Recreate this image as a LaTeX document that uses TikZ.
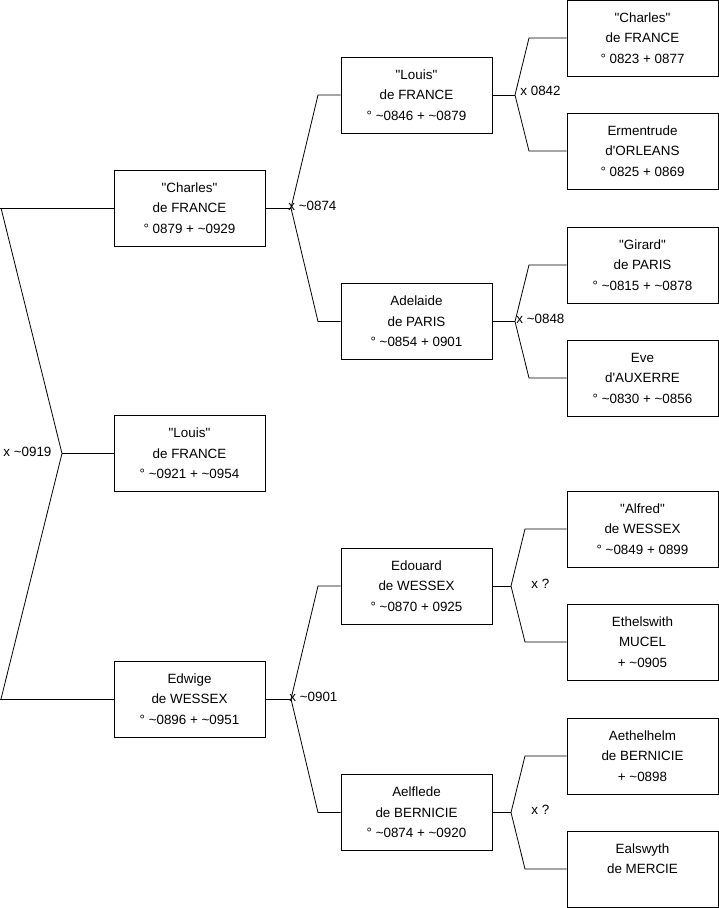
\documentclass[tikz,border=0pt]{standalone}
\usepackage{fontspec}
\setmainfont{Liberation Sans}[Ligatures=TeXReset]
\newcommand{\dq}{\symbol{34}}
\begin{document}
\begin{tikzpicture}[x=1pt,y=-1pt,line width=0.8pt,
  pbox/.style={draw, minimum width=151pt, minimum height=76pt, align=center, inner sep=0pt, font=\fontsize{13.4}{20.5}\selectfont},
  lab/.style={anchor=west, inner sep=0pt, font=\fontsize{13.4}{16}\selectfont}]
\useasboundingbox (0,0) rectangle (719,908);
% level 1
\node[pbox] (c1) at (189.5,208) {\dq Charles\dq\\de FRANCE\\° 0879 + \textasciitilde0929};
\node[pbox] (l1) at (189.5,453.5) {\dq Louis\dq\\de FRANCE\\° \textasciitilde0921 + \textasciitilde0954};
\node[pbox] (e1) at (189.5,699) {Edwige\\de WESSEX\\° \textasciitilde0896 + \textasciitilde0951};
% level 2
\node[pbox] (l2) at (416.5,95) {\dq Louis\dq\\de FRANCE\\° \textasciitilde0846 + \textasciitilde0879};
\node[pbox] (a2) at (416.5,321.5) {Adelaide\\de PARIS\\° \textasciitilde0854 + 0901};
\node[pbox] (ed2) at (416.5,586) {Edouard\\de WESSEX\\° \textasciitilde0870 + 0925};
\node[pbox] (ae2) at (416.5,812.5) {Aelflede\\de BERNICIE\\° \textasciitilde0874 + \textasciitilde0920};
% level 3
\node[pbox] (c3) at (642.5,38) {\dq Charles\dq\\de FRANCE\\° 0823 + 0877};
\node[pbox] (er3) at (642.5,151) {Ermentrude\\d'ORLEANS\\° 0825 + 0869};
\node[pbox] (g3) at (642.5,265) {\dq Girard\dq\\de PARIS\\° \textasciitilde0815 + \textasciitilde0878};
\node[pbox] (ev3) at (642.5,378) {Eve\\d'AUXERRE\\° \textasciitilde0830 + \textasciitilde0856};
\node[pbox] (al3) at (642.5,529) {\dq Alfred\dq\\de WESSEX\\° \textasciitilde0849 + 0899};
\node[pbox] (et3) at (642.5,642) {Ethelswith\\MUCEL\\+ \textasciitilde0905};
\node[pbox] (ah3) at (642.5,756) {Aethelhelm\\de BERNICIE\\+ \textasciitilde0898};
\node[pbox] (ea3) at (642.5,869) {Ealswyth\\de MERCIE\\\mbox{}};
% junctions
\coordinate (j0) at (62,453.5);
\coordinate (t0) at (1,208);
\coordinate (b0) at (1,699);
\coordinate (j1) at (291,208);
\coordinate (t1) at (318,95);
\coordinate (b1) at (318,321.5);
\coordinate (j2) at (291,699);
\coordinate (t2) at (318,586);
\coordinate (b2) at (318,812.5);
\coordinate (j3) at (515,95);
\coordinate (t3) at (529,38);
\coordinate (b3) at (529,151);
\coordinate (j4) at (515,321.5);
\coordinate (t4) at (529,265);
\coordinate (b4) at (529,378);
\coordinate (j5) at (511,586);
\coordinate (t5) at (525,529);
\coordinate (b5) at (525,642);
\coordinate (j6) at (511,812.5);
\coordinate (t6) at (525,756);
\coordinate (b6) at (525,869);
\coordinate (s0) at (0,208);
\coordinate (s1) at (0,699);
% connectors
\draw (c1.west) -- (s0);
\draw (t0) -- (j0) -- (b0);
\draw (s1) -- (e1.west);
\draw (j0) -- (l1.west);
\draw (c1.east) -- (j1);
\draw (l2.west) -- (t1) -- (j1) -- (b1) -- (a2.west);
\draw (e1.east) -- (j2);
\draw (ed2.west) -- (t2) -- (j2) -- (b2) -- (ae2.west);
\draw (l2.east) -- (j3);
\draw (c3.west) -- (t3) -- (j3) -- (b3) -- (er3.west);
\draw (a2.east) -- (j4);
\draw (g3.west) -- (t4) -- (j4) -- (b4) -- (ev3.west);
\draw (ed2.east) -- (j5);
\draw (al3.west) -- (t5) -- (j5) -- (b5) -- (et3.west);
\draw (ae2.east) -- (j6);
\draw (ah3.west) -- (t6) -- (j6) -- (b6) -- (ea3.west);
% labels
\node[lab] (x0) at (3,452) {x \textasciitilde0919};
\node[lab] (x1) at (288,206) {x \textasciitilde0874};
\node[lab] (x2) at (289,697) {x \textasciitilde0901};
\node[lab] (x3) at (520,91) {x 0842};
\node[lab] (x4) at (516,319) {x \textasciitilde0848};
\node[lab] (x5) at (531,584) {x ?};
\node[lab] (x6) at (531,810) {x ?};
\end{tikzpicture}
\end{document}
